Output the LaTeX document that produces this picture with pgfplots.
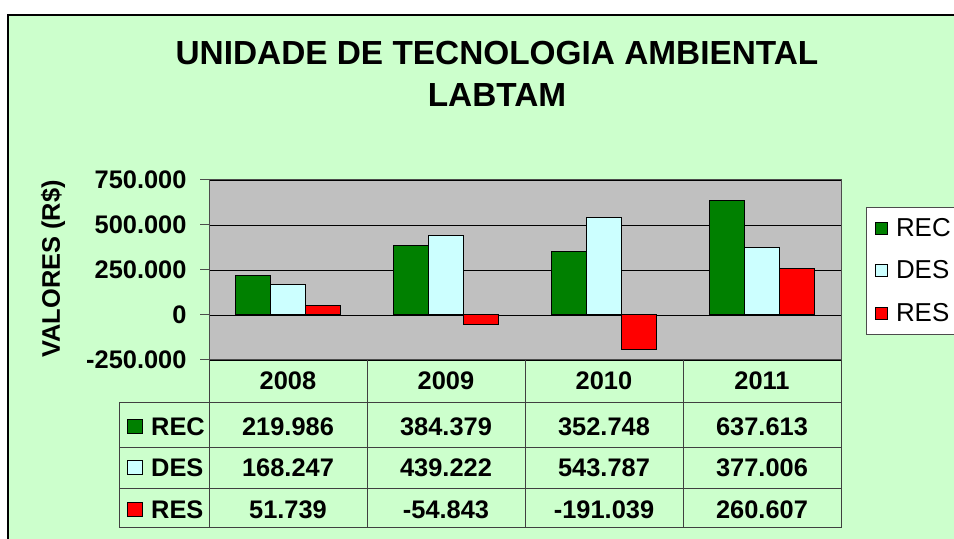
\documentclass[border=0pt]{standalone}
\usepackage{pgfplots}
\pgfplotsset{compat=1.18}
\usepackage{fontspec}
\setmainfont{Liberation Sans}
\definecolor{bggreen}{HTML}{CCFFCC}
\definecolor{plotgray}{HTML}{C0C0C0}
\definecolor{recgreen}{HTML}{008000}
\definecolor{descyan}{HTML}{CCFFFF}
\definecolor{resred}{HTML}{FF0000}
\definecolor{tline}{HTML}{404040}
\newcommand{\tf}{\fontsize{25.5}{29}\selectfont\bfseries}
\begin{document}
\begin{tikzpicture}[x=1bp,y=1bp]
\useasboundingbox (0,0) rectangle (954,539);
\fill[white] (0,0) rectangle (954,539);
\fill[bggreen] (8,0) rectangle (954,524);
\draw[black, line width=1.5bp] (8,0) -- (8,524) -- (954,524);
% title
\node[font=\fontsize{33.5}{38}\selectfont\bfseries] at (497,486) {UNIDADE DE TECNOLOGIA AMBIENTAL};
\node[font=\fontsize{33.5}{38}\selectfont\bfseries] at (497,444) {LABTAM};
% y label
\node[font=\tf, rotate=90] at (53,270) {VALORES (R\$)};
\begin{axis}[
  at={(209bp,179bp)}, anchor=south west,
  scale only axis, width=632bp, height=180bp,
  xmin=-0.5, xmax=3.5, ymin=-250000, ymax=750000,
  scaled y ticks=false,
  axis background/.style={fill=plotgray},
  axis line style={gray!60!black, line width=1bp},
  xtick=\empty,
  ytick={-250000,0,250000,500000,750000},
  yticklabels={-250.000,0,250.000,500.000,750.000},
  yticklabel style={font=\tf, xshift=-10bp},
  /pgf/number format/assume math mode=true,
  tick align=outside, ytick pos=left,
  major tick length=9bp,
  tick style={gray!60!black, line width=1bp},
  ymajorgrids, grid style={black, line width=0.8bp},
  legend style={at={(1.0396,0.85)}, anchor=north west, draw=gray!60!black, fill=white,
    font=\fontsize{26}{30}\selectfont, row sep=19bp, inner xsep=9bp, inner ysep=9bp,
    cells={anchor=west}},
  legend image code/.code={\draw[#1, draw=black, line width=0.8bp] (0bp,-6bp) rectangle (12bp,6bp);},
  clip=false,
]
\addplot[ybar, bar width=35bp, bar shift=-35bp, fill=recgreen, draw=black, line width=1bp]
  coordinates {(0,219986) (1,384379) (2,352748) (3,637613)};
\addplot[ybar, bar width=35bp, bar shift=0bp, fill=descyan, draw=black, line width=1bp]
  coordinates {(0,168247) (1,439222) (2,543787) (3,377006)};
\addplot[ybar, bar width=35bp, bar shift=35bp, fill=resred, draw=black, line width=1bp]
  coordinates {(0,51739) (1,-54843) (2,-191039) (3,260607)};
\legend{\hspace{6bp}REC,\hspace{6bp}DES,\hspace{6bp}RES}
\end{axis}
% data table
\begin{scope}[tline, line width=1bp]
\foreach \xx in {209,367,525,683,841} \draw (\xx,179) -- (\xx,11);
\draw (119,136) -- (119,11);
\foreach \yy in {136,91,50,11} \draw (119,\yy) -- (841,\yy);
\end{scope}
\foreach \xx/\lab in {288/2008,446/2009,604/2010,762/2011}
  \node[font=\tf] at (\xx,158) {\lab};
\foreach \yy/\lab/\col in {112/REC/recgreen,71/DES/descyan,29/RES/resred}{
  \fill[\col] (127,\yy-7) rectangle (142,\yy+7);
  \draw[black, line width=1bp] (127,\yy-7) rectangle (142,\yy+7);
  \node[font=\tf, anchor=west, inner sep=0pt] at (151,\yy) {\lab};
}
\foreach \xx/\va/\vb/\vc in {288/219.986/168.247/51.739, 446/384.379/439.222/-54.843, 604/352.748/543.787/-191.039, 762/637.613/377.006/260.607}{
  \node[font=\tf] at (\xx,112) {\va};
  \node[font=\tf] at (\xx,71) {\vb};
  \node[font=\tf] at (\xx,29) {\vc};
}
\end{tikzpicture}
\end{document}
